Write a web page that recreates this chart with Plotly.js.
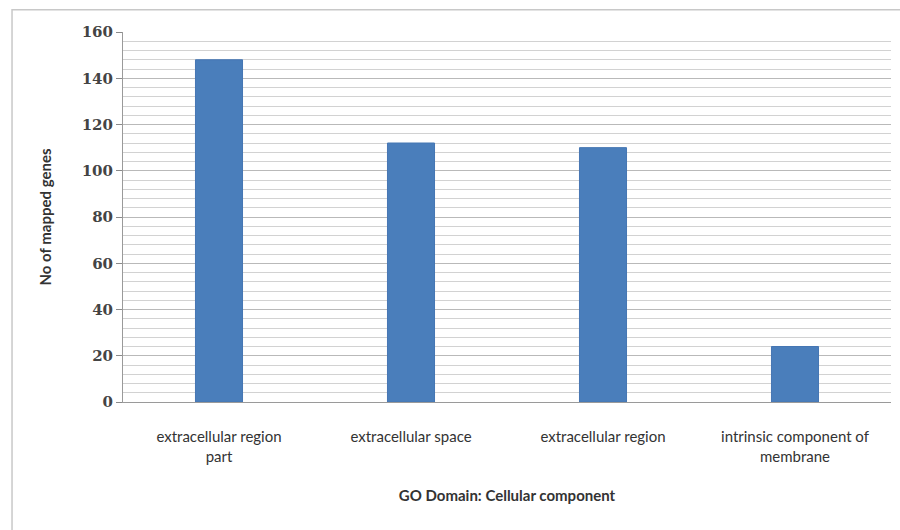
<!DOCTYPE html>
<html>
<head>
<meta charset="utf-8">
<script src="https://cdn.plot.ly/plotly-3.0.1.min.js"></script>
<style>html,body{margin:0;padding:0;background:#fff;}#chart{width:900px;height:530px;}</style>
</head>
<body>
<div id="chart"></div>
<script>
const categories = ["extracellular region<br>part", "extracellular space", "extracellular region", "intrinsic component of<br>membrane"];
const mappedGenes = [148, 112, 110, 24];
const yTicks = [0, 20, 40, 60, 80, 100, 120, 140, 160];

const trace = {
  type: "bar",
  x: categories,
  y: mappedGenes,
  marker: {color: "#4a7ebb", line: {color: "#4576b3", width: 1}},
  hoverinfo: "skip"
};

const layout = {
  width: 900, height: 530,
  margin: {l: 123, r: 9, t: 32, b: 128},
  paper_bgcolor: "#ffffff",
  plot_bgcolor: "#ffffff",
  bargap: 0.755,
  showlegend: false,
  font: {family: "Lato, sans-serif", color: "#222"},
  xaxis: {
    showgrid: false,
    showline: true, linecolor: "#9a9a9a", linewidth: 1,
    ticks: "", tickfont: {size: 15, color: "#333", lineposition: "none"},
    ticklabelstandoff: 21,
    title: {text: "<b>GO Domain: Cellular component</b>", font: {size: 15, color: "#333"}, standoff: 26},
    automargin: false
  },
  yaxis: {
    range: [0, 160],
    tickvals: yTicks,
    ticktext: yTicks.map(v => "<b>" + v + "</b>"),
    ticks: "outside", ticklen: 6, tickcolor: "#8a8a8a",
    showline: true, linecolor: "#9a9a9a", linewidth: 1,
    gridcolor: "#b9b9b9", gridwidth: 1,
    minor: {dtick: 4, showgrid: true, gridcolor: "#d2d2d2", gridwidth: 1, ticks: ""},
    tickfont: {family: "DejaVu Serif, serif", size: 15, color: "#444"},
    zeroline: false,
    title: {text: "<b>No of mapped genes</b>", font: {size: 15, color: "#333"}, standoff: 26},
    automargin: false
  },
  shapes: [{
    type: "rect", xref: "paper", yref: "paper",
    x0: -0.1445, x1: 1.05, y0: -0.5, y1: 1.06,
    line: {color: "#c8c8c8", width: 1.5}, fillcolor: "rgba(0,0,0,0)", layer: "below"
  }]
};

Plotly.newPlot("chart", [trace], layout, {displayModeBar: false, staticPlot: true});
</script>
</body>
</html>
